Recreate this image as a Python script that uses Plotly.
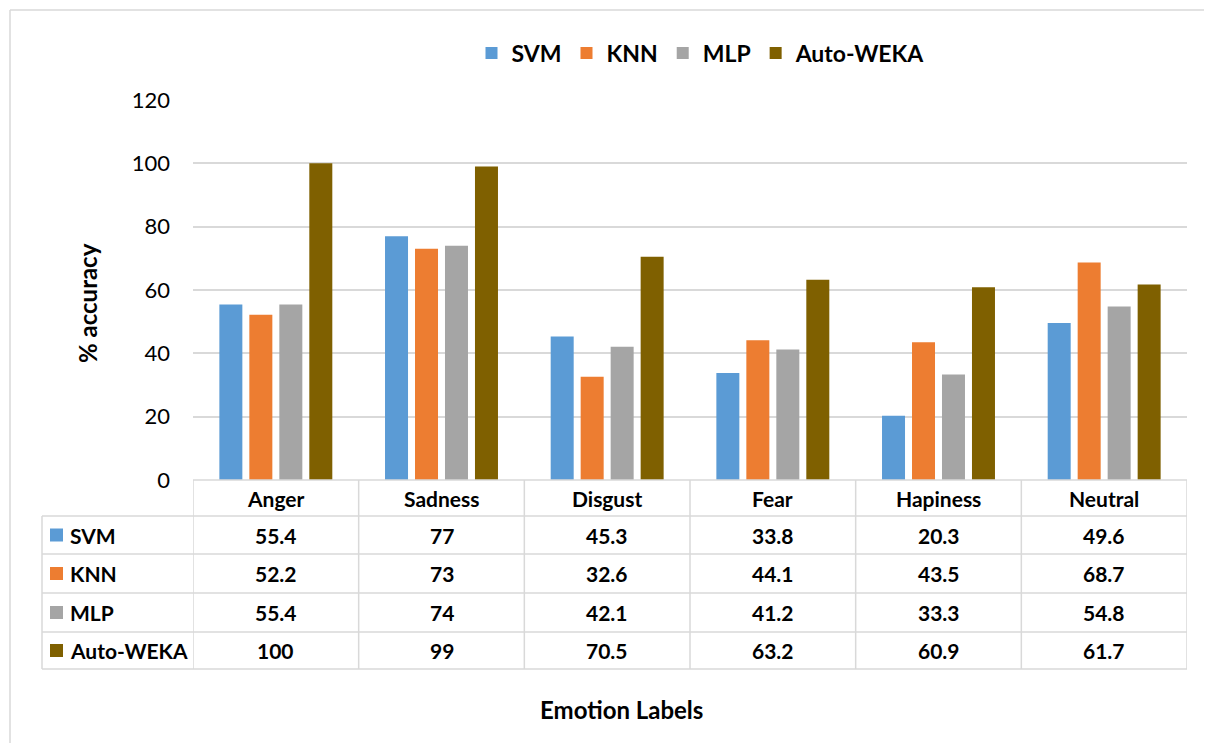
import plotly.graph_objects as go

categories = ["Anger", "Sadness", "Disgust", "Fear", "Hapiness", "Neutral"]
series_names = ["SVM", "KNN", "MLP", "Auto-WEKA"]
svm = [55.4, 77, 45.3, 33.8, 20.3, 49.6]
knn = [52.2, 73, 32.6, 44.1, 43.5, 68.7]
mlp = [55.4, 74, 42.1, 41.2, 33.3, 54.8]
auto_weka = [100, 99, 70.5, 63.2, 60.9, 61.7]
y_ticks = [0, 20, 40, 60, 80, 100, 120]

colors = ["#5B9BD5", "#ED7D31", "#A5A5A5", "#7F6000"]
series_values = [svm, knn, mlp, auto_weka]

OFF = 8  # page body margin
W, H = 1212 - OFF, 743 - OFF
L, R, T, B = 193, 1187, 100, 480
PW, PH = R - L, B - T
FONT = "Lato"
GRID = "#D9D9D9"
TFS = 21


def px(x):
    return (x - L) / PW


def py(y):
    return (B - y) / PH


fig = go.Figure()
for name, vals, c in zip(series_names, series_values, colors):
    fig.add_trace(go.Bar(name=name, x=list(range(len(categories))), y=vals,
                         marker=dict(color=c, line=dict(width=0))))

shapes = []
annotations = []

# outer chart border
shapes.append(dict(type="line", xref="paper", yref="paper", x0=px(10), x1=px(1215),
                   y0=py(10), y1=py(10), line=dict(color=GRID, width=1.5)))
shapes.append(dict(type="line", xref="paper", yref="paper", x0=px(10), x1=px(10),
                   y0=py(10), y1=py(750), line=dict(color=GRID, width=1.5)))

# table geometry (pixel rows)
row_edges = [480, 516, 554, 593, 632, 669]
left_x = 42
n = len(categories)

shapes.append(dict(type="line", xref="x", yref="paper", x0=-0.5, x1=n - 0.5,
                   y0=py(row_edges[0]), y1=py(row_edges[0]), line=dict(color=GRID, width=1.5)))
for ye in row_edges[1:]:
    shapes.append(dict(type="line", xref="paper", yref="paper", x0=px(left_x), x1=1,
                       y0=py(ye), y1=py(ye), line=dict(color=GRID, width=1.5)))
for i in range(n + 1):
    shapes.append(dict(type="line", xref="x", yref="paper", x0=i - 0.5, x1=i - 0.5,
                       y0=py(row_edges[0]), y1=py(row_edges[-1]), line=dict(color=GRID, width=1.5)))
shapes.append(dict(type="line", xref="paper", yref="paper", x0=px(left_x), x1=px(left_x),
                   y0=py(row_edges[1]), y1=py(row_edges[-1]), line=dict(color=GRID, width=1.5)))

# header row
hc = (row_edges[0] + row_edges[1]) / 2
for i, cat in enumerate(categories):
    annotations.append(dict(x=i, xref="x", y=py(hc), yref="paper", text="<b>%s</b>" % cat, showarrow=False,
                            font=dict(family=FONT, size=TFS, color="#000"), xanchor="center", yanchor="middle"))

# data rows
for r, (name, vals, c) in enumerate(zip(series_names, series_values, colors)):
    yc = (row_edges[r + 1] + row_edges[r + 2]) / 2
    shapes.append(dict(type="rect", xref="paper", yref="paper", x0=px(50), x1=px(63),
                       y0=py(yc - 6.5), y1=py(yc + 6.5), fillcolor=c, line=dict(width=0)))
    annotations.append(dict(x=px(68), xref="paper", y=py(yc), yref="paper", text="<b>%s</b>" % name,
                            showarrow=False, font=dict(family=FONT, size=TFS, color="#000"),
                            xanchor="left", yanchor="middle"))
    for i, v in enumerate(vals):
        annotations.append(dict(x=i, xref="x", y=py(yc), yref="paper", text="<b>%g</b>" % v,
                                showarrow=False, font=dict(family=FONT, size=TFS, color="#000"),
                                xanchor="center", yanchor="middle"))

# axis titles
annotations.append(dict(x=px(87), xref="paper", y=py(303), yref="paper", text="<b>% accuracy</b>",
                        textangle=-90, showarrow=False, font=dict(family=FONT, size=24, color="#000"),
                        xanchor="center", yanchor="middle"))
annotations.append(dict(x=px(621), xref="paper", y=py(709), yref="paper", text="<b>Emotion Labels</b>",
                        showarrow=False, font=dict(family=FONT, size=24, color="#000"),
                        xanchor="center", yanchor="middle"))

fig.update_layout(
    width=W, height=H,
    margin=dict(l=L - OFF, r=W - (R - OFF), t=T - OFF, b=H - (B - OFF), pad=0),
    paper_bgcolor="white", plot_bgcolor="white",
    barmode="group", bargap=0.276, bargroupgap=0.233,
    font=dict(family=FONT, color="#000"),
    shapes=shapes, annotations=annotations,
    showlegend=True,
    legend=dict(orientation="h", x=px(701), xanchor="center", y=py(53), yanchor="middle",
                font=dict(family=FONT, size=23, color="#000", weight="bold"),
                itemwidth=30, traceorder="normal"),
    xaxis=dict(range=[-0.5, n - 0.5], showticklabels=False, showgrid=False, zeroline=False,
               showline=False, ticks="", fixedrange=True),
    yaxis=dict(range=[0, 120], tickvals=y_ticks, showgrid=True, gridcolor=GRID, gridwidth=1.5,
               zeroline=False, showline=False, ticks="", ticklabelstandoff=22,
               tickfont=dict(family=FONT, size=22, color="#000"), fixedrange=True),
)

fig.write_html("out.html")
